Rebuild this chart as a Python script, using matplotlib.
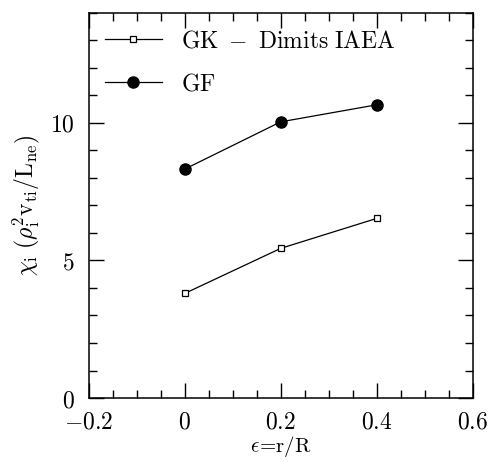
import matplotlib
matplotlib.use('Agg')
import matplotlib.pyplot as plt
from matplotlib.ticker import MultipleLocator, FuncFormatter

plt.rcParams['mathtext.fontset'] = 'cm'
plt.rcParams['font.family'] = 'serif'
plt.rcParams['font.serif'] = ['DejaVu Serif']

eps = [0.0, 0.2, 0.4]
chi_gk = [3.8, 5.44, 6.53]
chi_gf = [8.32, 10.04, 10.66]

fig = plt.figure(figsize=(4.92, 4.62), dpi=100)
ax = fig.add_axes([0.18, 0.1385, 0.781, 0.8335])

ax.plot(eps, chi_gk, '-', color='black', lw=0.9, marker='s', ms=5,
        mfc='white', mec='black', mew=0.9, label=r'$\mathrm{GK\ -\ Dimits\ IAEA}$')
ax.plot(eps, chi_gf, '-', color='black', lw=0.9, marker='o', ms=8,
        mfc='black', mec='black', label=r'$\mathrm{GF}$')

ax.set_xlim(-0.2, 0.6)
ax.set_ylim(0, 14)
ax.xaxis.set_major_locator(MultipleLocator(0.2))
ax.xaxis.set_minor_locator(MultipleLocator(0.05))
ax.yaxis.set_major_locator(MultipleLocator(5))
ax.yaxis.set_minor_locator(MultipleLocator(1))


def fmt(v, pos):
    if abs(v) < 1e-9:
        return r'$0$'
    if float(v).is_integer():
        return r'$%d$' % v
    return r'$%.1f$' % v


ax.xaxis.set_major_formatter(FuncFormatter(fmt))
ax.yaxis.set_major_formatter(FuncFormatter(fmt))
ax.tick_params(which='both', direction='in', top=True, right=True, labelsize=17, width=1.0)
ax.tick_params(which='major', length=11)
ax.tick_params(which='minor', length=6)
ax.tick_params(axis='x', pad=9)
ax.tick_params(axis='y', pad=10)
for s in ax.spines.values():
    s.set_linewidth(1.1)

ax.set_xlabel(r'$\epsilon\!=\!\mathrm{r/R}$', fontsize=15, labelpad=0)
ax.set_ylabel(r'$\chi_{\mathrm{i}}\ (\rho_{\mathrm{i}}^2\mathrm{v_{ti}/L_{ne}})$', fontsize=17, labelpad=6)

ax.legend(loc='upper left', frameon=False, fontsize=17, handlelength=2.4,
          handletextpad=0.8, labelspacing=0.85, borderaxespad=0.3)

fig.savefig('out.png', dpi=100)
